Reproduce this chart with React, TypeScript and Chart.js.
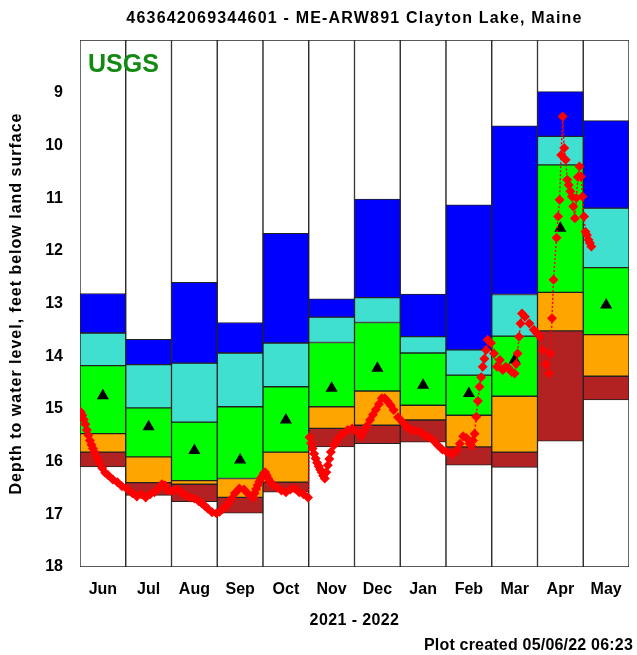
import React, { useEffect, useRef } from "react";
import { Chart, registerables } from "chart.js";

Chart.register(...registerables);

const months = ["Jun", "Jul", "Aug", "Sep", "Oct", "Nov", "Dec", "Jan", "Feb", "Mar", "Apr", "May"];
const monthStarts = ["2021-06", "2021-07", "2021-08", "2021-09", "2021-10", "2021-11", "2021-12", "2022-01", "2022-02", "2022-03", "2022-04", "2022-05"];
const yTicks = [9, 10, 11, 12, 13, 14, 15, 16, 17, 18];

// Percentile classes of monthly depth (feet below land surface)
const maxVals = [12.81, 13.68, 12.6, 13.36, 11.67, 12.91, 11.02, 12.82, 11.13, 9.63, 8.98, 9.53];
const p90 = [13.56, 14.16, 14.13, 13.94, 13.75, 13.26, 12.89, 13.63, 13.88, 12.83, 9.83, 11.19];
const p75 = [14.18, 14.98, 15.25, 14.96, 14.58, 13.74, 13.36, 13.94, 14.36, 13.62, 10.37, 12.32];
const p25 = [15.47, 15.91, 16.36, 16.32, 15.82, 14.96, 14.66, 14.93, 15.12, 14.76, 12.79, 13.59];
const p10 = [15.82, 16.4, 16.43, 16.68, 16.39, 15.37, 15.31, 15.21, 15.72, 15.82, 13.52, 14.38];
const minVals = [16.1, 16.64, 16.76, 16.98, 16.58, 15.72, 15.66, 15.63, 16.07, 16.11, 15.61, 14.83];
const medians = [14.75, 15.34, 15.79, 15.97, 15.21, 14.61, 14.23, 14.55, 14.71, 14.07, 11.57, 13.03];

// Daily depth readings
const traceDates = [
  "2021-06-01", "2021-06-02", "2021-06-03", "2021-06-04", "2021-06-05", "2021-06-06", "2021-06-07", "2021-06-08", "2021-06-09", "2021-06-10", "2021-06-11", "2021-06-12", "2021-06-13", "2021-06-15", "2021-06-17", "2021-06-19", "2021-06-22", "2021-06-25", "2021-06-28",
  "2021-07-01", "2021-07-05", "2021-07-08", "2021-07-11", "2021-07-14", "2021-07-17", "2021-07-20", "2021-07-23", "2021-07-25", "2021-07-27", "2021-07-29",
  "2021-08-01", "2021-08-04", "2021-08-07", "2021-08-10", "2021-08-13", "2021-08-16", "2021-08-19", "2021-08-21", "2021-08-23", "2021-08-25", "2021-08-28", "2021-08-31",
  "2021-09-02", "2021-09-04", "2021-09-06", "2021-09-08", "2021-09-10", "2021-09-12", "2021-09-15", "2021-09-18", "2021-09-21", "2021-09-24", "2021-09-25", "2021-09-26", "2021-09-27", "2021-09-28", "2021-09-29", "2021-09-30",
  "2021-10-01", "2021-10-02", "2021-10-03", "2021-10-04", "2021-10-05", "2021-10-07", "2021-10-10", "2021-10-13", "2021-10-16", "2021-10-19", "2021-10-22", "2021-10-25", "2021-10-28", "2021-10-31",
  "2021-11-01", "2021-11-02", "2021-11-03", "2021-11-04", "2021-11-05", "2021-11-06", "2021-11-07", "2021-11-08", "2021-11-09", "2021-11-10", "2021-11-11", "2021-11-12", "2021-11-13", "2021-11-14", "2021-11-15", "2021-11-17", "2021-11-19", "2021-11-21", "2021-11-23", "2021-11-26", "2021-11-29",
  "2021-12-02", "2021-12-05", "2021-12-07", "2021-12-09", "2021-12-11", "2021-12-13", "2021-12-15", "2021-12-17", "2021-12-19", "2021-12-21", "2021-12-23", "2021-12-25", "2021-12-27", "2021-12-30",
  "2022-01-02", "2022-01-05", "2022-01-08", "2022-01-11", "2022-01-14", "2022-01-17", "2022-01-20", "2022-01-23", "2022-01-26", "2022-01-29",
  "2022-02-01", "2022-02-04", "2022-02-07", "2022-02-09", "2022-02-11", "2022-02-13", "2022-02-15", "2022-02-16", "2022-02-17", "2022-02-18", "2022-02-19", "2022-02-20", "2022-02-21", "2022-02-22", "2022-02-23", "2022-02-24", "2022-02-25", "2022-02-26", "2022-02-28",
  "2022-03-02", "2022-03-04", "2022-03-06", "2022-03-08", "2022-03-10", "2022-03-12", "2022-03-14", "2022-03-16", "2022-03-17", "2022-03-18", "2022-03-19", "2022-03-20", "2022-03-21", "2022-03-23", "2022-03-26", "2022-03-29", "2022-03-31",
  "2022-04-02", "2022-04-04", "2022-04-06", "2022-04-08", "2022-04-09", "2022-04-10", "2022-04-11", "2022-04-13", "2022-04-14", "2022-04-15", "2022-04-16", "2022-04-17", "2022-04-18", "2022-04-19", "2022-04-20", "2022-04-21", "2022-04-22", "2022-04-23", "2022-04-24", "2022-04-25", "2022-04-26", "2022-04-27", "2022-04-28", "2022-04-29", "2022-04-30",
  "2022-05-01", "2022-05-02", "2022-05-03", "2022-05-04", "2022-05-05", "2022-05-06",
];
const traceDepths = [
  15.06, 15.12, 15.2, 15.29, 15.4, 15.5, 15.6, 15.68, 15.75, 15.82, 15.89, 15.95, 16.01, 16.12, 16.21, 16.26, 16.34, 16.39, 16.47,
  16.51, 16.6, 16.66, 16.62, 16.68, 16.62, 16.58, 16.49, 16.43, 16.45, 16.55,
  16.56, 16.53, 16.58, 16.64, 16.68, 16.7, 16.75, 16.79, 16.84, 16.89, 16.96, 16.98,
  16.95, 16.9, 16.85, 16.78, 16.7, 16.6, 16.51, 16.53, 16.62, 16.68, 16.6, 16.52, 16.45, 16.38, 16.32, 16.28,
  16.22, 16.2, 16.26, 16.32, 16.37, 16.43, 16.49, 16.55, 16.58, 16.53, 16.51, 16.58, 16.62, 16.68,
  15.54, 15.65, 15.75, 15.85, 15.94, 16.02, 16.09, 16.15, 16.2, 16.27, 16.32, 16.2, 16.07, 15.95, 15.82, 15.69, 15.6, 15.52, 15.46, 15.4, 15.37,
  15.44, 15.52, 15.42, 15.32, 15.21, 15.11, 15.01, 14.91, 14.8, 14.8, 14.86, 14.93, 15.02, 15.16,
  15.25, 15.35, 15.4, 15.42, 15.44, 15.5, 15.54, 15.6, 15.69, 15.77,
  15.82, 15.86, 15.79, 15.66, 15.52, 15.55, 15.66, 15.7, 15.6, 15.47, 15.15, 14.85, 14.58, 14.4, 14.2, 14.05, 13.88, 13.69, 13.75,
  13.95, 14.2, 14.07, 14.26, 14.2, 14.23, 14.3, 14.33, 14.15, 13.95, 13.63, 13.38, 13.19, 13.25, 13.38, 13.5, 13.56,
  13.63, 13.88, 14.15, 14.33, 13.95, 13.28, 12.55, 11.75, 11.35, 11.03, 10.18, 9.45, 10.05, 10.27, 10.65, 10.75, 10.87, 10.97, 11.16, 11.38, 11.0, 10.6, 10.4, 10.59, 10.97,
  11.35, 11.64, 11.7, 11.79, 11.85, 11.92,
];

const titleText = "463642069344601 - ME-ARW891 Clayton Lake, Maine";
const yTitle = "Depth to water level, feet below land surface";
const xTitle = "2021 - 2022";
const createdText = "Plot created 05/06/22 06:23";
const logoText = "USGS";

const FONT = "'Liberation Sans', Arial, Helvetica, sans-serif";

function dateToMonthPos(d: string): number {
  const [y, m, day] = d.split("-").map(Number);
  const key = `${y}-${String(m).padStart(2, "0")}`;
  const idx = monthStarts.indexOf(key);
  const dim = new Date(y, m, 0).getDate();
  return idx + (day - 0.5) / dim;
}

const textPlugin = {
  id: "texts",
  afterDraw(chart: any) {
    const { ctx, chartArea } = chart;
    const cx = (chartArea.left + chartArea.right) / 2;
    ctx.save();
    ctx.fillStyle = "#000";
    ctx.textAlign = "center";
    ctx.textBaseline = "middle";
    ctx.font = `bold 16px ${FONT}`;
    (ctx as any).letterSpacing = "1.2px";
    ctx.fillText(titleText, cx, 19);
    (ctx as any).letterSpacing = "0.4px";
    ctx.fillText(xTitle, cx, 621);
    (ctx as any).letterSpacing = "0.2px";
    ctx.textAlign = "right";
    ctx.fillText(createdText, 633, 646);
    ctx.save();
    ctx.translate(17, (chartArea.top + chartArea.bottom) / 2);
    ctx.rotate(-Math.PI / 2);
    ctx.textAlign = "center";
    (ctx as any).letterSpacing = "1px";
    ctx.fillText(yTitle, 0, 0);
    ctx.restore();
    (ctx as any).letterSpacing = "0px";
    ctx.textAlign = "left";
    ctx.fillStyle = "#128a12";
    ctx.font = `bold 25px ${FONT}`;
    ctx.fillText(logoText, chartArea.left + 8, 65);
    ctx.restore();
  },
};

export default function App() {
  const ref = useRef<HTMLCanvasElement>(null);
  useEffect(() => {
    document.body.style.margin = "0";
    const canvas = ref.current!;
    const band = (lo: number[], hi: number[], color: string, order: number, label: string) => ({
      type: "bar" as const,
      label,
      data: months.map((_, i) => [lo[i], hi[i]]),
      backgroundColor: color,
      borderColor: "#222",
      borderWidth: 1,
      borderSkipped: false,
      grouped: false,
      barPercentage: 1,
      categoryPercentage: 1,
      order,
    });
    const chart = new Chart(canvas, {
      type: "bar",
      data: {
        labels: months,
        datasets: [
          {
            type: "line",
            label: "Daily",
            xAxisID: "x2",
            data: traceDates.map((d, i) => ({ x: dateToMonthPos(d), y: traceDepths[i] })),
            borderColor: "#ff0000",
            borderWidth: 1.5,
            borderDash: [2, 2],
            pointStyle: "rectRot",
            pointRadius: 5,
            pointBackgroundColor: "#ff0000",
            pointBorderWidth: 0,
            order: 0,
          } as any,
          {
            type: "line",
            label: "Median",
            data: medians,
            showLine: false,
            pointStyle: "triangle",
            pointRadius: 7,
            pointBackgroundColor: "#000",
            pointBorderColor: "#000",
            pointBorderWidth: 0,
            order: 1,
          } as any,
          band(p90, maxVals, "#0000ff", 2, "Much above normal"),
          band(p75, p90, "#40e0d0", 2, "Above normal"),
          band(p25, p75, "#00ff00", 2, "Normal"),
          band(p10, p25, "#ffa500", 2, "Below normal"),
          band(minVals, p10, "#b22222", 2, "Much below normal"),
          band(months.map(() => 8), months.map(() => 18), "#ffffff", 3, "Range"),
        ],
      },
      options: {
        responsive: false,
        devicePixelRatio: 1,
        animation: false,
        layout: { padding: { top: 40, right: 8, left: 0, bottom: 0 } },
        plugins: { legend: { display: false }, tooltip: { enabled: false }, title: { display: false } },
        scales: {
          x: {
            type: "category",
            offset: true,
            grid: { display: false, drawTicks: false },
            border: { display: false },
            ticks: { color: "#000", font: { family: FONT, size: 16, weight: "bold" }, padding: 13, maxRotation: 0, autoSkip: false },
            afterFit: (s: any) => { s.height = 88; },
          },
          x2: { type: "linear", display: false, offset: false, beginAtZero: false, min: 0, max: 12, grid: { offset: false } },
          y: {
            reverse: true,
            min: 8,
            max: 18,
            afterBuildTicks: (s: any) => { s.ticks = [8, ...yTicks].map((v) => ({ value: v })); },
            ticks: {
              color: "#000",
              font: { family: FONT, size: 16, weight: "bold" },
              padding: 17,
              callback: (v: any) => (yTicks.includes(Number(v)) ? String(v) : ""),
            },
            grid: { display: false, drawTicks: false },
            border: { display: false },
            afterFit: (s: any) => { s.width = 80; },
          },
        },
      } as any,
      plugins: [textPlugin],
    });
    return () => chart.destroy();
  }, []);
  return (
    <div style={{ position: "absolute", left: 0, top: 0, width: 637, height: 655 }}>
      <canvas ref={ref} width={637} height={655} style={{ width: 637, height: 655 }} />
    </div>
  );
}
